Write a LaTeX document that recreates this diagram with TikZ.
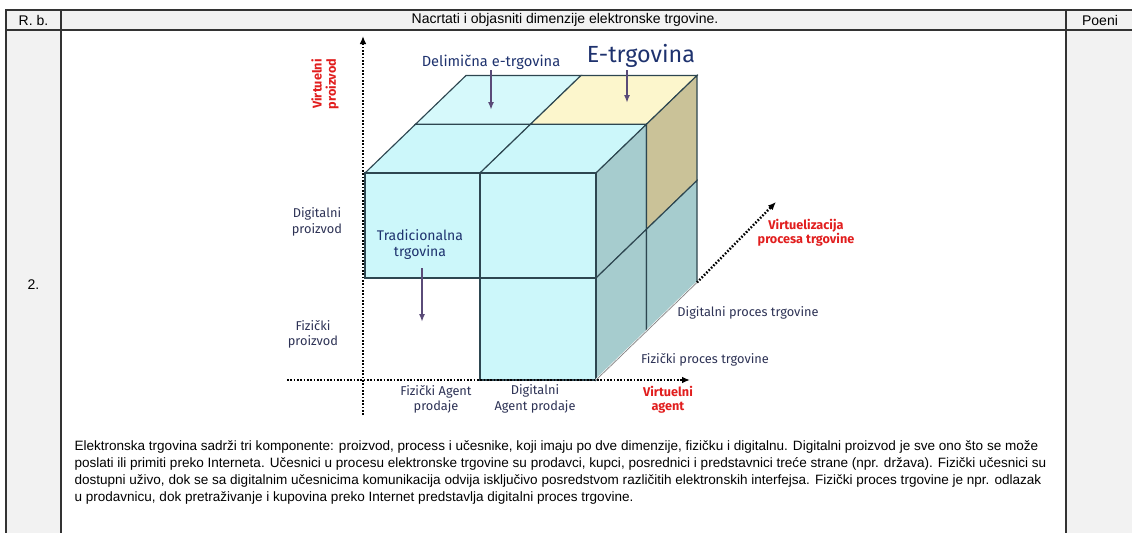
\documentclass[tikz,border=0pt]{standalone}
\usepackage{fontspec}
\setmainfont{Liberation Sans}
\newfontfamily\labelfont{Fira Sans}
\usetikzlibrary{arrows.meta}

\definecolor{headgray}{RGB}{242,242,242}
\definecolor{cellcyan}{RGB}{204,247,250}
\definecolor{cellyellow}{RGB}{252,246,204}
\definecolor{sideteal}{RGB}{166,204,206}
\definecolor{sidekhaki}{RGB}{202,194,152}
\definecolor{edgegray}{RGB}{45,70,80}
\definecolor{labelblue}{RGB}{30,50,110}
\definecolor{axisred}{RGB}{225,30,30}
\definecolor{pointer}{RGB}{90,75,120}
\definecolor{axistext}{RGB}{45,50,85}

\tikzset{every picture/.style={line width=0.75pt}}
\tikzset{
  table line/.style={draw=black!80, line width=1.1pt},
  cube edge/.style={draw=edgegray, line width=0.85pt},
  axis dots/.style={line width=1.8pt, dash pattern={on 1.2pt off 1.3pt}, -{Latex[length=6pt,width=5pt]}},
  pointer arrow/.style={draw=pointer, line width=1.2pt, -{Latex[length=6pt,width=4.5pt]}},
  tabletext/.style={font=\fontsize{10.5}{12}\selectfont, inner sep=0pt},
  bodytext/.style={font=\fontsize{10.15}{12}\selectfont, inner sep=0pt, anchor=west},
  lbl/.style={font=\labelfont\fontsize{9.6}{11.5}\selectfont, text=axistext, align=center, inner sep=0pt},
  redlbl/.style={font=\labelfont\bfseries\fontsize{9.5}{10.8}\selectfont, text=axisred, align=center, inner sep=0pt},
  titlelbl/.style={font=\labelfont\fontsize{11}{12}\selectfont, text=labelblue, align=center, inner sep=0pt}
}

\begin{document}
\begin{tikzpicture}[x=0.75pt,y=0.75pt,yscale=-1,xscale=1]
	\useasboundingbox (0,0) rectangle (1132,533);

	%Table background
	\fill[headgray] (6,10) rectangle (1132,30);
	\fill[headgray] (6,30) rectangle (61,533);
	\fill[headgray] (1066,30) rectangle (1132,533);
	%Table lines
	\draw[table line] (1132,10) -- (6,10) -- (6,533);
	\draw[table line] (6,30) -- (1132,30);
	\draw[table line] (61,10) -- (61,533);
	\draw[table line] (1066,10) -- (1066,533);

	% Text Node
	\node[tabletext] (rb) at (33.5,20) {R. b.};
	% Text Node
	\node[tabletext] (task) at (565,20) {Nacrtati i objasniti dimenzije elektronske trgovine.};
	% Text Node
	\node[tabletext] (poeni) at (1100,20) {Poeni};
	% Text Node
	\node[tabletext] (rownum) at (33.5,285) {2.};

	%Shape: top face
	\draw[cube edge, fill=cellcyan] (365,173) -- (480,173) -- (530.5,124.25) -- (415.5,124.25) -- cycle;
	\draw[cube edge, fill=cellcyan] (480,173) -- (596,173) -- (646.5,124.25) -- (530.5,124.25) -- cycle;
	\draw[cube edge, fill=cellcyan!80!white] (415.5,124.25) -- (530.5,124.25) -- (581,75.5) -- (466,75.5) -- cycle;
	\draw[cube edge, fill=cellyellow] (530.5,124.25) -- (646.5,124.25) -- (697,75.5) -- (581,75.5) -- cycle;
	%Shape: right face
	\draw[cube edge, fill=sideteal] (596,173) -- (646.5,124.25) -- (646.5,229.25) -- (596,278) -- cycle;
	\draw[cube edge, fill=sidekhaki] (646.5,124.25) -- (697,75.5) -- (697,180.5) -- (646.5,229.25) -- cycle;
	\draw[cube edge, fill=sideteal] (596,278) -- (646.5,229.25) -- (646.5,331.25) -- (596,380) -- cycle;
	\draw[cube edge, fill=sideteal] (646.5,229.25) -- (697,180.5) -- (697,282.5) -- (646.5,331.25) -- cycle;
	%Shape: front face
	\draw[cube edge, fill=cellcyan] (365,173) rectangle (480,278);
	\draw[cube edge, fill=cellcyan] (480,173) rectangle (596,278);
	\draw[cube edge, fill=cellcyan] (480,278) rectangle (596,380);
	\draw[draw=white, line width=1.5pt] (596,380) -- (697,282.5);
	\draw[draw=gray, line width=0.5pt] (596,380) -- (697,282.5);

	%Axes
	\coordinate (origin) at (363,380);
	\coordinate (ytop) at (363,36);
	\coordinate (ybot) at (363,415);
	\coordinate (xleft) at (287,380);
	\coordinate (xright) at (690,380);
	\coordinate (zfrom) at (697,282.5);
	\coordinate (ztip) at (776,202);
	\draw[axis dots] (ybot) -- (ytop);
	\draw[axis dots] (xleft) -- (xright);
	\draw[axis dots] (zfrom) -- (ztip);

	% Text Node
	\node[titlelbl] (partial) at (491,62) {Delimična e-trgovina};
	% Text Node
	\node[titlelbl, font=\labelfont\fontsize{17.5}{19}\selectfont] (ecom) at (641,56) {E-trgovina};
	% Text Node
	\node[titlelbl, font=\labelfont\fontsize{10.5}{12}\selectfont] (classic) at (420,245) {Tradicionalna\\trgovina};
	\coordinate (partialcell) at (491,110);
	\coordinate (ecomcell) at (627,103);
	\coordinate (classiccell) at (422,322);
	\draw[pointer arrow] (491,70) -- (partialcell);
	\draw[pointer arrow] (627,70) -- (ecomcell);
	\draw[pointer arrow] (422,268) -- (classiccell);

	% Text Node
	\node[redlbl, rotate=90] (vproduct) at (325,84) {Virtuelni\\proizvod};
	% Text Node
	\node[lbl] (dproduct) at (317,222) {Digitalni\\proizvod};
	% Text Node
	\node[lbl] (fproduct) at (313,334) {Fizički\\proizvod};
	% Text Node
	\node[lbl] (fagent) at (436,399) {Fizički Agent\\prodaje};
	% Text Node
	\node[lbl] (dagent) at (535,399) {Digitalni\\Agent prodaje};
	% Text Node
	\node[redlbl] (vagent) at (668,400) {Virtuelni\\agent};
	% Text Node
	\node[lbl] (dprocess) at (748,313) {Digitalni proces trgovine};
	% Text Node
	\node[lbl] (fprocess) at (705,360) {Fizički proces trgovine};
	% Text Node
	\node[redlbl] (vprocess) at (806,233) {Virtuelizacija\\procesa trgovine};

	% Text Node
	\node[bodytext] (line1) at (74,447) {Elektronska trgovina sadrži tri komponente: proizvod, process i učesnike, koji imaju po dve dimenzije, fizičku i digitalnu. Digitalni proizvod je sve ono što se može};
	\node[bodytext] (line2) at (74,464) {poslati ili primiti preko Interneta. Učesnici u procesu elektronske trgovine su prodavci, kupci, posrednici i predstavnici treće strane (npr. država). Fizički učesnici su};
	\node[bodytext] (line3) at (74,481) {dostupni uživo, dok se sa digitalnim učesnicima komunikacija odvija isključivo posredstvom različitih elektronskih interfejsa. Fizički proces trgovine je npr. odlazak};
	\node[bodytext] (line4) at (74,498) {u prodavnicu, dok pretraživanje i kupovina preko Internet predstavlja digitalni proces trgovine.};

\end{tikzpicture}
\end{document}
